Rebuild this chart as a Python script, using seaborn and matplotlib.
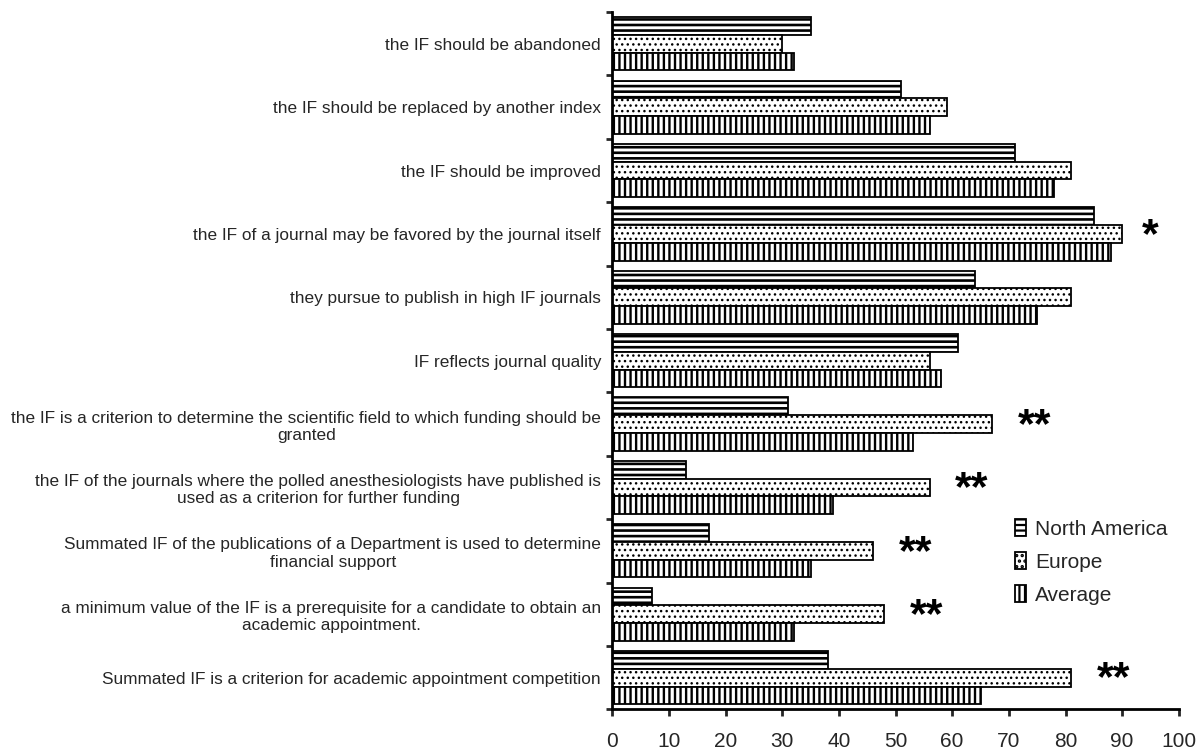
import pandas as pd
import numpy as np
import matplotlib
matplotlib.use('Agg')
from matplotlib import pyplot as plt
from matplotlib.patches import Patch
import seaborn as sns

sns.set_style('white')
plt.rcParams['font.family'] = ['Liberation Sans', 'DejaVu Sans']
plt.rcParams['hatch.color'] = 'black'
plt.rcParams['hatch.linewidth'] = 1.6

# data (percent of respondents)
statements = [
    "the IF should be abandoned",
    "the IF should be replaced by another index",
    "the IF should be improved",
    "the IF of a journal may be favored by the journal itself",
    "they pursue to publish in high IF journals",
    "IF reflects journal quality",
    "the IF is a criterion to determine the scientific field to which funding should be\ngranted",
    "the IF of the journals where the polled anesthesiologists have published is\nused as a criterion for further funding",
    "Summated IF of the publications of a Department is used to determine\nfinancial support",
    "a minimum value of the IF is a prerequisite for a candidate to obtain an\nacademic appointment.",
    "Summated IF is a criterion for academic appointment competition",
]
regions = ["North America", "Europe", "Average"]
north_america = [35, 51, 71, 85, 64, 61, 31, 13, 17, 7, 38]
europe = [30, 59, 81, 90, 81, 56, 67, 56, 46, 48, 81]
average = [32, 56, 78, 88, 75, 58, 53, 39, 35, 32, 65]
significance = ["", "", "", "*", "", "", "**", "**", "**", "**", "**"]

hatches = ['---', '...', '|||']
hatch_lw = [1.9, 1.0, 1.7]

df = pd.DataFrame({
    'statement': statements * 3,
    'region': np.repeat(regions, len(statements)),
    'percent': north_america + europe + average,
})

fig, ax = plt.subplots(figsize=(11.98, 7.53), dpi=100)
fig.subplots_adjust(left=0.511, right=0.984, top=0.984, bottom=0.058)

sns.barplot(data=df, y='statement', x='percent', hue='region', orient='h',
            order=statements, hue_order=regions, palette=['white'] * 3,
            width=0.84, gap=0, edgecolor='black', linewidth=1.3,
            legend=False, ax=ax)


def style_patch(p, k):
    p.set_hatch(hatches[k])
    if hasattr(p, 'set_hatch_linewidth'):
        p.set_hatch_linewidth(hatch_lw[k])


n = len(statements)
for i, bar in enumerate(ax.patches[:3 * n]):
    style_patch(bar, i // n)

# significance stars next to each group
for i, mark in enumerate(significance):
    if not mark:
        continue
    top = max(north_america[i], europe[i], average[i])
    ax.text(top + (5 if mark == '*' else 7.5), i + 0.03, mark,
            fontsize=31, fontweight='bold', ha='center', va='center', color='black')

ax.set_xlim(0, 100)
ax.set_ylim(n - 0.5, -0.5)
ax.set_xticks(range(0, 101, 10))
ax.set_xlabel('')
ax.set_ylabel('')
ax.set_yticks(np.arange(-0.5, n, 1.0), minor=True)
ax.tick_params(axis='y', which='major', length=0, pad=8, labelsize=12.4)
ax.tick_params(axis='y', which='minor', length=4, width=2, direction='out', left=True)
ax.tick_params(axis='x', length=5, width=2, direction='out', bottom=True,
               labelsize=15, pad=11)
for lab in ax.get_yticklabels():
    lab.set_multialignment('center')

sns.despine(ax=ax)
for side in ['left', 'bottom']:
    ax.spines[side].set_linewidth(2)
    ax.spines[side].set_color('black')

handles = []
for k in range(3):
    h = Patch(facecolor='white', edgecolor='black', linewidth=1.3)
    style_patch(h, k)
    handles.append(h)
ax.legend(handles, regions, loc='upper left', frameon=False, fontsize=15,
          bbox_to_anchor=(1015 / 1198, 1 - 519 / 753), bbox_transform=fig.transFigure,
          handlelength=0.55, handleheight=0.85, handletextpad=0.4,
          labelspacing=0.65, borderpad=0, borderaxespad=0)

fig.savefig('out.png', dpi=100)
